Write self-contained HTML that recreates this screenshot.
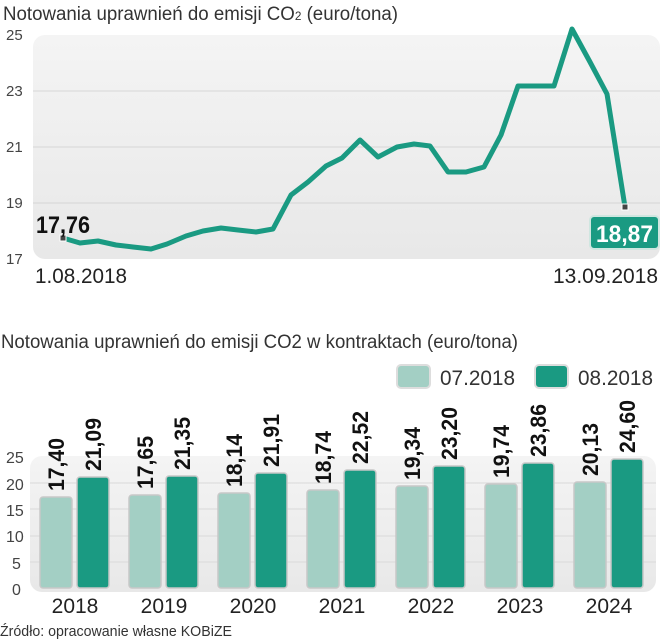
<!DOCTYPE html>
<html><head><meta charset="utf-8"><style>
body{margin:0;background:#fff}
svg{display:block}
text{font-family:"Liberation Sans",sans-serif}
</style></head><body>
<svg width="663" height="640" viewBox="0 0 663 640" xmlns="http://www.w3.org/2000/svg">
<defs>
<linearGradient id="bg" x1="0" y1="0" x2="0" y2="1"><stop offset="0" stop-color="#f4f4f4"/><stop offset="1" stop-color="#e8e8e8"/></linearGradient>
</defs>
<!-- Title 1 -->
<text x="3" y="20" font-size="19" fill="#333" textLength="395" lengthAdjust="spacingAndGlyphs">Notowania uprawnień do emisji CO<tspan font-size="12">2</tspan> (euro/tona)</text>
<!-- line chart bg -->
<rect x="33" y="35" width="627" height="224" rx="12" fill="url(#bg)"/>
<g stroke="#d6d6d6" stroke-width="1">
<line x1="33" y1="91" x2="660" y2="91"/><line x1="33" y1="147" x2="660" y2="147"/><line x1="33" y1="203" x2="660" y2="203"/>
</g>
<g font-size="15" fill="#444">
<text x="6" y="40">25</text><text x="6" y="96">23</text><text x="6" y="152">21</text><text x="6" y="208">19</text><text x="6" y="264">17</text>
</g>
<polyline fill="none" stroke="#1a9a82" stroke-width="5" stroke-linejoin="round" points="63,238 80,243 98,241 116,245 133,247 151,249 167,244 186,236 203,231 221,228 238,230 256,232 273,229 291,195 308,182 326,166 342,158 360,140 378,157 397,147 414,144 430,146 448,172 466,172 484,167 501,135 518,86 536,86 554,86 572,29 590,62 607,94 625,207"/>
<rect x="60" y="235" width="6" height="6" fill="#444" stroke="#fff" stroke-width="1"/>
<rect x="622" y="204" width="6" height="6" fill="#444" stroke="#fff" stroke-width="1"/>
<text x="36" y="233" font-size="24" font-weight="bold" fill="#111" textLength="54" lengthAdjust="spacingAndGlyphs">17,76</text>
<rect x="590" y="216" width="69" height="33" rx="4" fill="#1a9a82" stroke="#cfe6e0" stroke-width="2"/>
<text x="596" y="242" font-size="24" font-weight="bold" fill="#fff" textLength="57" lengthAdjust="spacingAndGlyphs">18,87</text>
<text x="35" y="283" font-size="21" fill="#222" textLength="92" lengthAdjust="spacingAndGlyphs">1.08.2018</text>
<text x="553" y="283" font-size="21" fill="#222" textLength="105" lengthAdjust="spacingAndGlyphs">13.09.2018</text>

<!-- Title 2 -->
<text x="1" y="348" font-size="19" fill="#333" textLength="517" lengthAdjust="spacingAndGlyphs">Notowania uprawnień do emisji CO2 w kontraktach (euro/tona)</text>
<!-- legend -->
<rect x="397" y="365" width="33" height="23" rx="4" fill="#a3cfc4" stroke="#ddd" stroke-width="2"/>
<text x="440" y="385" font-size="21" fill="#333" textLength="75" lengthAdjust="spacingAndGlyphs">07.2018</text>
<rect x="535" y="365" width="33" height="23" rx="4" fill="#1a9a82" stroke="#ddd" stroke-width="2"/>
<text x="578" y="385" font-size="21" fill="#333" textLength="75" lengthAdjust="spacingAndGlyphs">08.2018</text>
<!-- bar bg -->
<rect x="30" y="456" width="626" height="136" rx="12" fill="url(#bg)"/>
<g stroke="#d9d9d9" stroke-width="1">
<line x1="30" y1="483" x2="656" y2="483"/><line x1="30" y1="509" x2="656" y2="509"/><line x1="30" y1="536" x2="656" y2="536"/><line x1="30" y1="562" x2="656" y2="562"/>
</g>
<g font-size="16" fill="#444">
<text x="6" y="463">25</text><text x="6" y="490">20</text><text x="6" y="516">15</text><text x="6" y="542">10</text><text x="12" y="569">5</text><text x="12" y="595">0</text>
</g>
<g stroke="#c8c8c8" stroke-width="1.5">
<rect x="40" y="497" width="32" height="91" rx="3" fill="#a3cfc4"/><rect x="77" y="477" width="32" height="111" rx="3" fill="#1a9a82"/>
<rect x="129" y="495" width="32" height="93" rx="3" fill="#a3cfc4"/><rect x="166" y="476" width="32" height="112" rx="3" fill="#1a9a82"/>
<rect x="218" y="493" width="32" height="95" rx="3" fill="#a3cfc4"/><rect x="255" y="473" width="32" height="115" rx="3" fill="#1a9a82"/>
<rect x="307" y="490" width="32" height="98" rx="3" fill="#a3cfc4"/><rect x="344" y="470" width="32" height="118" rx="3" fill="#1a9a82"/>
<rect x="396" y="486" width="32" height="102" rx="3" fill="#a3cfc4"/><rect x="433" y="466" width="32" height="122" rx="3" fill="#1a9a82"/>
<rect x="485" y="484" width="32" height="104" rx="3" fill="#a3cfc4"/><rect x="522" y="463" width="32" height="125" rx="3" fill="#1a9a82"/>
<rect x="574" y="482" width="32" height="106" rx="3" fill="#a3cfc4"/><rect x="611" y="459" width="32" height="129" rx="3" fill="#1a9a82"/>
</g>
<g font-size="22" font-weight="bold" fill="#111">
<text transform="translate(64,491) rotate(-90)" textLength="53" lengthAdjust="spacingAndGlyphs">17,40</text>
<text transform="translate(101,471) rotate(-90)" textLength="53" lengthAdjust="spacingAndGlyphs">21,09</text>
<text transform="translate(153,489) rotate(-90)" textLength="53" lengthAdjust="spacingAndGlyphs">17,65</text>
<text transform="translate(190,470) rotate(-90)" textLength="53" lengthAdjust="spacingAndGlyphs">21,35</text>
<text transform="translate(242,487) rotate(-90)" textLength="53" lengthAdjust="spacingAndGlyphs">18,14</text>
<text transform="translate(279,467) rotate(-90)" textLength="53" lengthAdjust="spacingAndGlyphs">21,91</text>
<text transform="translate(331,484) rotate(-90)" textLength="53" lengthAdjust="spacingAndGlyphs">18,74</text>
<text transform="translate(368,464) rotate(-90)" textLength="53" lengthAdjust="spacingAndGlyphs">22,52</text>
<text transform="translate(420,480) rotate(-90)" textLength="53" lengthAdjust="spacingAndGlyphs">19,34</text>
<text transform="translate(457,460) rotate(-90)" textLength="53" lengthAdjust="spacingAndGlyphs">23,20</text>
<text transform="translate(509,478) rotate(-90)" textLength="53" lengthAdjust="spacingAndGlyphs">19,74</text>
<text transform="translate(546,457) rotate(-90)" textLength="53" lengthAdjust="spacingAndGlyphs">23,86</text>
<text transform="translate(598,476) rotate(-90)" textLength="53" lengthAdjust="spacingAndGlyphs">20,13</text>
<text transform="translate(635,453) rotate(-90)" textLength="53" lengthAdjust="spacingAndGlyphs">24,60</text>
</g>
<g font-size="21" fill="#222" text-anchor="middle">
<text x="75" y="613">2018</text><text x="164" y="613">2019</text><text x="253" y="613">2020</text><text x="342" y="613">2021</text><text x="431" y="613">2022</text><text x="520" y="613">2023</text><text x="609" y="613">2024</text>
</g>
<text x="0" y="636" font-size="15" fill="#333" textLength="232" lengthAdjust="spacingAndGlyphs">Źródło: opracowanie własne KOBiZE</text>
</svg>
</body></html>
